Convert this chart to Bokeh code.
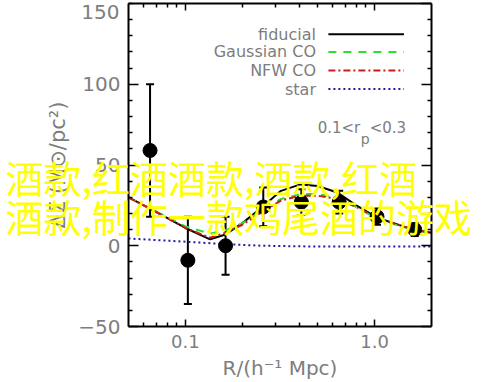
from bokeh.plotting import figure
from bokeh.models import (ColumnDataSource, Whisker, TeeHead, LogAxis,
                          LinearAxis, FixedTicker, Range1d)
from bokeh.core.properties import value
from bokeh.embed import file_html
from bokeh.resources import INLINE

# ---------------- data ----------------
point_r = [0.065, 0.103, 0.163, 0.258, 0.41, 0.65, 1.03, 1.63]
point_ds = [59, -9, 0, 24, 27, 27, 18, 10]
point_err = [41, 27, 18, 12, 8, 7, 5, 4]

curve_r = [0.05, 0.065, 0.1, 0.135, 0.163, 0.2, 0.255, 0.32, 0.406, 0.5, 0.636, 0.8, 1.05, 1.6, 2.0]
fiducial = [30, 23, 11, 4, 7, 14, 24, 34, 38, 37, 33, 25, 17, 10, 8]
gaussian_co = [30, 23, 12, 7.5, 9.5, 14, 22, 29, 32, 32, 30, 24, 16, 10, 8]
nfw_co = [30, 23, 11, 5, 8, 13, 21, 28, 31, 31, 29, 24, 17, 10, 8]

star_r = [0.05, 0.1, 0.163, 0.255, 0.5, 1.0, 2.0]
star = [4.5, 2.5, 1.0, 0.0, -0.5, -0.5, -0.5]

y_ticks = [-50, 0, 50, 100, 150]
y_minor = [v for v in range(-50, 151, 10) if v not in y_ticks]
x_ticks = [0.1, 1]
x_tick_labels = ["0.1", "1.0"]
x_minor = [0.06, 0.07, 0.08, 0.09, 0.2, 0.3, 0.4, 0.5, 0.6, 0.7, 0.8, 0.9]

legend_labels = ["fiducial", "Gaussian CO", "NFW CO", "star"]
overlay_lines = ["酒款,红酒酒款,酒款,红酒", "酒款,制作一款鸡尾酒的游戏"]

# ---------------- styles ----------------
GRAY = "#7d7d7d"
FONT = "DejaVu Sans"
styles = {
    "fiducial": dict(line_color="black", line_width=2, line_dash="solid"),
    "Gaussian CO": dict(line_color="#2ee02e", line_width=2, line_dash="8 7"),
    "NFW CO": dict(line_color="#d01818", line_width=2, line_dash="7 3 2 3"),
    "star": dict(line_color="#1c1c9c", line_width=2, line_dash="2 3"),
}

p = figure(width=500, height=382, x_axis_type="log",
           x_range=Range1d(0.05, 2.0), y_range=Range1d(-50, 150),
           output_backend="svg", toolbar_location=None,
           min_border_left=128, min_border_right=69,
           min_border_top=3, min_border_bottom=55)
p.background_fill_color = "white"
p.border_fill_color = "white"
p.outline_line_color = None
p.grid.visible = False

xticker = FixedTicker(ticks=x_ticks, minor_ticks=x_minor)
yticker = FixedTicker(ticks=y_ticks, minor_ticks=y_minor)
# left axis: the top value is written separately, just below the frame corner
yticker_left = FixedTicker(ticks=y_ticks[:-1], minor_ticks=y_minor + y_ticks[-1:])


def style_axis(ax):
    ax.axis_line_color = "black"
    ax.axis_line_width = 2
    ax.major_tick_line_color = "black"
    ax.minor_tick_line_color = "black"
    ax.major_tick_line_width = 1.5
    ax.minor_tick_line_width = 1.5
    ax.major_tick_out = 0
    ax.minor_tick_out = 0
    ax.minor_tick_in = 4
    ax.major_label_text_color = GRAY
    ax.major_label_text_font = FONT
    ax.axis_label_text_color = GRAY
    ax.axis_label_text_font = FONT
    ax.axis_label_text_font_style = "normal"


xa = p.xaxis[0]
xa.ticker = xticker
style_axis(xa)
xa.major_tick_in = 7
xa.major_label_overrides = dict(zip(x_ticks, x_tick_labels))
xa.major_label_text_font_size = "18px"
xa.major_label_standoff = 8
xa.axis_label = "R/(h\u207b\u00b9 Mpc)"
xa.axis_label_text_font_size = "20px"
xa.axis_label_standoff = 5

ya = p.yaxis[0]
ya.ticker = yticker_left
style_axis(ya)
ya.major_tick_in = 10
ya.major_label_text_font_size = "20px"
ya.major_label_standoff = 8
ya.axis_label = "\u0394\u03a3 (M\u2299/pc\u00b2)"
ya.axis_label_text_font_size = "21px"
ya.axis_label_standoff = 5

top = LogAxis(ticker=xticker, major_label_standoff=0)
style_axis(top)
top.major_label_text_font_size = "1px"
top.major_label_text_alpha = 0
top.major_tick_in = 7
p.add_layout(top, "above")

right = LinearAxis(ticker=yticker, major_label_standoff=0)
style_axis(right)
right.major_label_text_font_size = "1px"
right.major_label_text_alpha = 0
right.major_tick_in = 10
p.add_layout(right, "right")

# top tick value (drawn unclipped, just under the canvas top)
p.text(x=[0.05], y=y_ticks[-1:], text=[str(y_ticks[-1])], x_offset=-9, y_offset=8,
       text_align="right", text_baseline="middle", text_font=value(FONT),
       text_font_size="20px", text_color=GRAY, level="overlay")

# ---------------- curves ----------------
p.line(curve_r, fiducial, **styles["fiducial"])
p.line(curve_r, gaussian_co, **styles["Gaussian CO"])
p.line(curve_r, nfw_co, **styles["NFW CO"])
p.line(star_r, star, **styles["star"])

# ---------------- data points ----------------
src = ColumnDataSource(dict(
    r=point_r, ds=point_ds,
    upper=[d + e for d, e in zip(point_ds, point_err)],
    lower=[d - e for d, e in zip(point_ds, point_err)],
))
p.add_layout(Whisker(source=src, base="r", upper="upper", lower="lower",
                     line_color="black", line_width=2,
                     upper_head=TeeHead(size=8, line_color="black", line_width=2),
                     lower_head=TeeHead(size=8, line_color="black", line_width=2)))
p.scatter("r", "ds", source=src, size=14, color="black")

# ---------------- legend (label left, sample right) ----------------
leg_x0, leg_x1, leg_text_x = 0.57, 1.43, 0.49
leg_y = [131, 120, 108.5, 97]
for name, yy in zip(legend_labels, leg_y):
    p.line([leg_x0, leg_x1], [yy, yy], **styles[name])
p.text(x=[leg_text_x] * len(legend_labels), y=leg_y, text=legend_labels,
       text_align="right", text_baseline="middle", text_font=value(FONT),
       text_font_size="16px", text_color=GRAY)

# ---------------- annotation 0.1 < r_p < 0.3 ----------------
ann_y = 73
p.text(x=[0.5, 0.5, 0.5], y=[ann_y] * 3, text=["0.1<r", "p", "<0.3"],
       x_offset=[0, 43, 52], y_offset=[0, 11, 0],
       text_align="left", text_baseline="middle", text_font=value(FONT),
       text_font_size=["15px", "14px", "15px"], text_color=GRAY)

# ---------------- overlay text (unclipped) ----------------
p.text(x=[0.1, 0.1], y=[43, 19], text=overlay_lines, x_offset=-180,
       text_align="left", text_baseline="middle",
       text_font=value("Noto Sans CJK SC"), text_font_size="38px",
       text_color="#ffff00", level="overlay")

open("out.html", "w").write(file_html(p, INLINE))
